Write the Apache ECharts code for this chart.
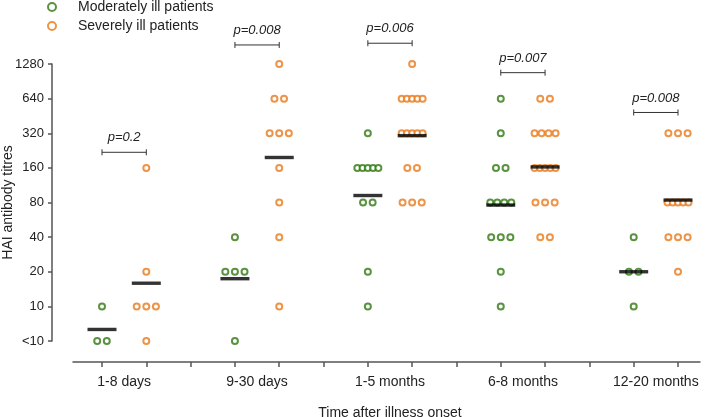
<!DOCTYPE html>
<html>
<head>
<meta charset="utf-8">
<script src="https://cdn.jsdelivr.net/npm/echarts@6/dist/echarts.min.js"></script>
<style>
  html, body { margin: 0; padding: 0; background: #fff; }
  #chart { width: 708px; height: 417px; }
</style>
</head>
<body>
<div id="chart"></div>
<script>
// data ("<10" is stored as 5)
const groups = ['1-8 days', '9-30 days', '1-5 months', '6-8 months', '12-20 months'];
const tickLabels = ['<10', '10', '20', '40', '80', '160', '320', '640', '1280'];
const moderate = [
  [10, 5, 5],
  [40, 20, 20, 20, 5],
  [320, 160, 160, 160, 160, 160, 80, 80, 20, 10],
  [640, 320, 160, 160, 80, 80, 80, 80, 40, 40, 40, 20, 10],
  [40, 20, 20, 10]
];
const severe = [
  [160, 20, 10, 10, 10, 5],
  [1280, 640, 640, 320, 320, 320, 160, 80, 40, 10],
  [1280, 640, 640, 640, 640, 640, 320, 320, 320, 320, 320, 160, 160, 80, 80, 80],
  [640, 640, 320, 320, 320, 320, 160, 160, 160, 160, 160, 80, 80, 80, 40, 40],
  [320, 320, 320, 80, 80, 80, 80, 80, 40, 40, 40, 20]
];
const meanModerate = [6.3, 17.4, 92, 76, 20];
const meanSevere = [15.9, 197, 305, 163, 84];
const pValues = ['p=0.2', 'p=0.008', 'p=0.006', 'p=0.007', 'p=0.008'];

// layout: bracket heights (axis levels)
const bracketLevel = [5.45, 8.55, 8.6, 7.75, 6.6];

const green = '#2f7810';
const orange = '#e8791c';
const font = 'Liberation Sans, Arial, sans-serif';
const pxPerUnit = 576 / 13;

function level(v) { return Math.log2(v / 5); }

// spread equal values side by side
function spread(values, center) {
  const counts = {};
  values.forEach(v => { counts[v] = (counts[v] || 0) + 1; });
  const seen = {};
  return values.map(v => {
    const n = counts[v];
    const i = seen[v] = (seen[v] === undefined ? 0 : seen[v] + 1);
    const gap = n > 1 ? Math.min(9.6, 21 / (n - 1)) : 0;
    return [center + (i - (n - 1) / 2) * gap / pxPerUnit, level(v)];
  });
}

let modPts = [], sevPts = [], means = [], brackets = [];
groups.forEach((g, i) => {
  modPts = modPts.concat(spread(moderate[i], 3 * i));
  sevPts = sevPts.concat(spread(severe[i], 3 * i + 1));
  means.push([3 * i, level(meanModerate[i])]);
  means.push([3 * i + 1, level(meanSevere[i])]);
  brackets.push([i, bracketLevel[i], pValues[i]]);
});

const axisColor = '#555';
const chart = echarts.init(document.getElementById('chart'));
chart.setOption({
  animation: false,
  textStyle: { fontFamily: font, color: '#222' },
  legend: {
    orient: 'vertical',
    left: 42,
    top: -5,
    itemWidth: 42,
    itemHeight: 8,
    itemGap: 5,
    icon: 'emptyCircle',
    itemStyle: { borderWidth: 2.2 },
    textStyle: { fontSize: 14, fontFamily: font, color: '#222' },
    data: ['Moderately ill patients', 'Severely ill patients']
  },
  grid: [
    { left: 73, right: 8, top: 64, bottom: 76, outerBoundsMode: 'none' },
    { left: 102, right: 30, top: 64, bottom: 76, outerBoundsMode: 'none' }
  ],
  xAxis: [
    {
      gridIndex: 0, type: 'value', min: 0, max: 1, position: 'bottom', offset: 21,
      axisLine: { show: true, onZero: false, lineStyle: { color: axisColor, width: 1.5 } },
      axisTick: { show: false }, axisLabel: { show: false }, splitLine: { show: false }
    },
    {
      gridIndex: 1, type: 'value', min: 0, max: 13, interval: 1, position: 'bottom', offset: 21,
      axisLine: { show: false, onZero: false },
      axisTick: { show: true, length: 5, lineStyle: { color: axisColor, width: 1.5 } },
      axisLabel: { show: false }, splitLine: { show: false }
    },
    {
      gridIndex: 1, type: 'value', min: 0, max: 13, interval: 0.5, position: 'bottom', offset: 21,
      axisLine: { show: false, onZero: false }, axisTick: { show: false }, splitLine: { show: false },
      axisLabel: {
        margin: 13, fontSize: 14, color: '#222', fontFamily: font,
        formatter: v => ((v - 0.5) % 3 === 0 ? groups[(v - 0.5) / 3] : '')
      },
      name: 'Time after illness onset', nameLocation: 'middle', nameGap: 44, nameMoveOverlap: false,
      nameTextStyle: { fontSize: 14, color: '#222', fontFamily: font }
    }
  ],
  yAxis: [
    { gridIndex: 0, type: 'value', min: 0, max: 8, show: false },
    {
      gridIndex: 1, type: 'value', min: 0, max: 8, interval: 1, offset: 50,
      axisLine: { show: true, onZero: false, lineStyle: { color: axisColor, width: 1.5 } },
      axisTick: { show: true, length: 4, lineStyle: { color: axisColor, width: 1.5 } },
      splitLine: { show: false },
      axisLabel: { margin: 8, fontSize: 13, color: '#222', fontFamily: font, formatter: v => tickLabels[v] },
      name: 'HAI antibody titres', nameLocation: 'middle', nameGap: 37, nameMoveOverlap: false,
      nameTextStyle: { fontSize: 14, color: '#222', fontFamily: font }
    }
  ],
  series: [
    {
      name: 'Moderately ill patients', type: 'scatter', xAxisIndex: 1, yAxisIndex: 1,
      symbol: 'emptyCircle', symbolSize: 6, clip: false,
      itemStyle: { color: green, borderColor: green, borderWidth: 2.2 },
      data: modPts, z: 2
    },
    {
      name: 'Severely ill patients', type: 'scatter', xAxisIndex: 1, yAxisIndex: 1,
      symbol: 'emptyCircle', symbolSize: 6, clip: false,
      itemStyle: { color: orange, borderColor: orange, borderWidth: 2.2 },
      data: sevPts, z: 2
    },
    {
      name: 'mean', type: 'scatter', xAxisIndex: 1, yAxisIndex: 1, clip: false,
      symbol: 'rect', symbolSize: [29, 3.4],
      itemStyle: { color: '#000' }, data: means, z: 5, silent: true
    },
    {
      name: 'p', type: 'custom', xAxisIndex: 1, yAxisIndex: 1, clip: false, z: 6,
      data: brackets,
      renderItem: function (params, api) {
        const i = api.value(0), lv = api.value(1);
        const a = api.coord([3 * i, lv]);
        const b = api.coord([3 * i + 1, lv]);
        const st = { stroke: '#333', lineWidth: 1 };
        return {
          type: 'group',
          children: [
            { type: 'line', shape: { x1: a[0], y1: a[1], x2: b[0], y2: b[1] }, style: st },
            { type: 'line', shape: { x1: a[0], y1: a[1] - 3, x2: a[0], y2: a[1] + 3 }, style: st },
            { type: 'line', shape: { x1: b[0], y1: b[1] - 3, x2: b[0], y2: b[1] + 3 }, style: st },
            {
              type: 'text',
              style: {
                x: (a[0] + b[0]) / 2, y: a[1] - 8, text: brackets[params.dataIndex][2],
                align: 'center', verticalAlign: 'bottom',
                font: 'italic 13px ' + font, fill: '#222'
              }
            }
          ]
        };
      }
    }
  ]
});
</script>
</body>
</html>
